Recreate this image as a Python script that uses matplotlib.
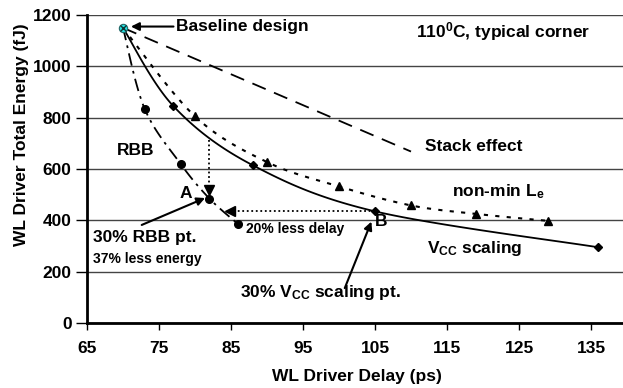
import numpy as np
import matplotlib
matplotlib.use("Agg")
import matplotlib.pyplot as plt

plt.rcParams["font.family"] = ["Liberation Sans", "DejaVu Sans"]
plt.rcParams["font.weight"] = "bold"
plt.rcParams["mathtext.fontset"] = "custom"
plt.rcParams["mathtext.rm"] = "Liberation Sans:bold"
plt.rcParams["mathtext.bf"] = "Liberation Sans:bold"
plt.rcParams["mathtext.it"] = "Liberation Sans:bold"

# WL driver delay (ps) / total energy (fJ)
baseline = (70, 1150)
rbb_delay = [70, 73, 78, 82, 86]
rbb_energy = [1150, 835, 620, 485, 385]
vcc_delay = [70, 77, 88, 105, 136]
vcc_energy = [1150, 845, 615, 435, 295]
lmin_delay = [70, 80, 90, 100, 110, 119, 129]
lmin_energy = [1150, 805, 627, 532, 458, 425, 398]
stack_delay = [70, 110]
stack_energy = [1150, 668]

x_ticks = [65, 75, 85, 95, 105, 115, 125, 135]
y_ticks = [0, 200, 400, 600, 800, 1000, 1200]


def smooth(xs, ys, n=30):
    """Catmull-Rom curve through the given points."""
    p = np.column_stack([xs, ys]).astype(float)
    p = np.vstack([p[0], p, p[-1]])
    out = []
    t = np.linspace(0, 1, n)[:, None]
    for i in range(1, len(p) - 2):
        p0, p1, p2, p3 = p[i - 1], p[i], p[i + 1], p[i + 2]
        seg = 0.5 * ((2 * p1) + (-p0 + p2) * t
                     + (2 * p0 - 5 * p1 + 4 * p2 - p3) * t ** 2
                     + (-p0 + 3 * p1 - 3 * p2 + p3) * t ** 3)
        out.append(seg if i == 1 else seg[1:])
    out = np.vstack(out)
    return out[:, 0], out[:, 1]


fig = plt.figure(figsize=(6.23, 3.88), dpi=100)
ax = fig.add_axes([87 / 623, 65 / 388, 540 / 623, 308 / 388])
ax.set_xlim(65, 140)
ax.set_ylim(0, 1200)

ax.set_yticks(y_ticks)
ax.set_xticks(x_ticks)
ax.yaxis.grid(True, color="#444444", linewidth=1.0)
ax.set_axisbelow(True)
for s in ("top", "right"):
    ax.spines[s].set_visible(False)
for s in ("left", "bottom"):
    ax.spines[s].set_linewidth(2.0)
    ax.spines[s].set_color("black")
ax.tick_params(axis="y", direction="out", length=8, width=1, labelsize=12.5, pad=3)
ax.tick_params(axis="x", direction="out", length=5, width=1, labelsize=12.5, pad=8)

# Curves
sx, sy = smooth(rbb_delay, rbb_energy)
ax.plot(sx, sy, color="black", lw=1.3, linestyle=(0, (7, 3, 1.5, 3)))
ax.plot(rbb_delay[1:], rbb_energy[1:], "o", color="black", ms=5.5)

sx, sy = smooth(vcc_delay, vcc_energy)
ax.plot(sx, sy, color="black", lw=1.3)
ax.plot(vcc_delay[1:], vcc_energy[1:], "D", color="black", ms=4.5)

sx, sy = smooth(lmin_delay, lmin_energy)
ax.plot(sx, sy, color="black", lw=1.5, linestyle=(0, (2, 3.5)))
ax.plot(lmin_delay[1:], lmin_energy[1:], "^", color="black", ms=6)

ax.plot(stack_delay, stack_energy, color="black", lw=1.3, linestyle=(0, (8, 5)))

ax.plot(*baseline, "o", color="#22dddd", ms=6, mec="#226666", mew=0.8, zorder=5)
ax.plot(*baseline, "x", color="#113333", ms=4, mew=1.0, zorder=6)

# Delay / energy savings arrows
vx, vy_top, vy_tip = rbb_delay[3], 713, 510
ax.plot([vx, vx], [vy_top, vy_tip + 15], color="black", lw=1.3, linestyle=(0, (1, 1.5)))
ax.plot(vx, vy_tip + 8, "v", color="black", ms=7)

hx_tip = 84.3
ax.plot([vcc_delay[3], hx_tip + 1.2], [vcc_energy[3], vcc_energy[3]],
        color="black", lw=1.3, linestyle=(0, (1, 1.5)))
ax.plot(hx_tip + 0.6, vcc_energy[3], "<", color="black", ms=7)

arrow = dict(arrowstyle="-|>", color="black", lw=1.5, mutation_scale=12,
             shrinkA=0, shrinkB=0)

ax.annotate("Baseline design", xy=(71.1, 1155), xytext=(77.4, 1155),
            ha="left", va="center", fontsize=12.5, fontweight="bold",
            arrowprops=arrow)
ax.annotate("", xy=(81.4, 487), xytext=(72.6, 382), arrowprops=arrow)
ax.annotate("", xy=(104.5, 395), xytext=(100.8, 136), arrowprops=arrow)

# Labels
kw = dict(fontsize=12.5, fontweight="bold", va="center", ha="left")
ax.text(110.7, 1135, r"110$^{0}$C, typical corner", **kw)
ax.text(111.9, 688, "Stack effect", **kw)
ax.text(115.7, 512, r"non-min L$_{\mathrm{e}}$", **kw)
ax.text(71.8, 674, "RBB", fontsize=12.5, fontweight="bold", va="center", ha="center")
ax.text(78.7, 503, "A", fontsize=12.5, fontweight="bold", va="center", ha="center")
ax.text(105.9, 395, "B", fontsize=12.5, fontweight="bold", va="center", ha="center")
ax.text(65.8, 335, "30% RBB pt.", **kw)
ax.text(65.8, 250, "37% less energy", fontsize=10, fontweight="bold", va="center", ha="left")
ax.text(87.1, 366, "20% less delay", fontsize=10, fontweight="bold", va="center", ha="left")
ax.text(112.2, 292, r"V$_{\mathrm{CC}}$ scaling", **kw)
ax.text(86.25, 117, r"30% V$_{\mathrm{CC}}$ scaling pt.", **kw)

fig.text(357 / 623, 1 - 377 / 388, "WL Driver Delay (ps)", ha="center", va="center",
         fontsize=12.5, fontweight="bold")
fig.text(22 / 623, 1 - 135 / 388, "WL Driver Total Energy (fJ)", ha="center", va="center",
         rotation=90, fontsize=12.5, fontweight="bold")

fig.savefig("out.png", dpi=100)
